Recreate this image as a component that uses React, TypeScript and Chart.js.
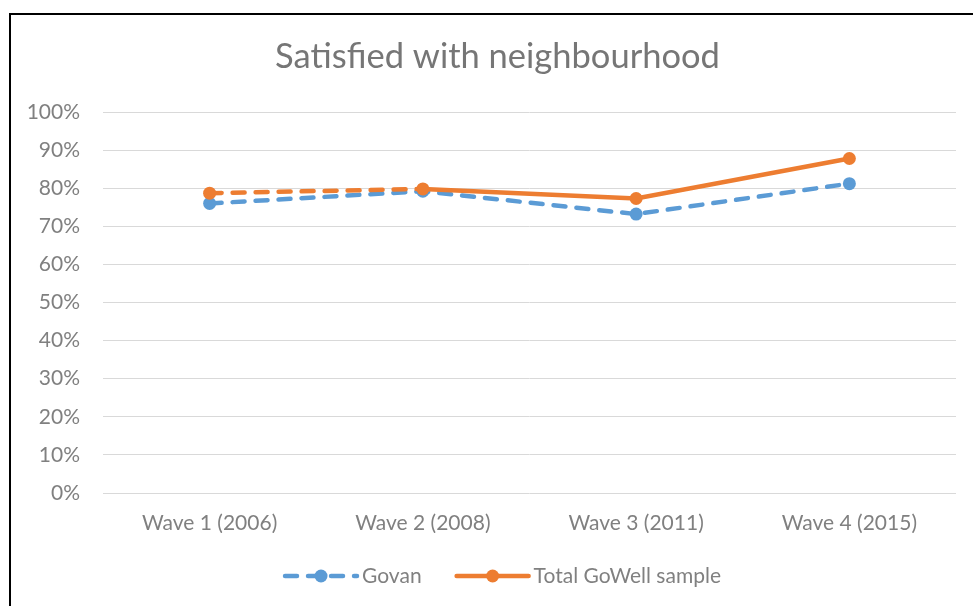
import React, { useEffect, useRef } from "react";
import { Chart, registerables } from "chart.js";

Chart.register(...registerables);

const categories = ["Wave 1 (2006)", "Wave 2 (2008)", "Wave 3 (2011)", "Wave 4 (2015)"];
const govanValues = [76.0, 79.2, 73.2, 81.2];
const totalValues = [78.7, 79.8, 77.3, 87.8];
const seriesNames = ["Govan", "Total GoWell sample"];
const titleText = "Satisfied with neighbourhood";
const yMin = 0;
const yMax = 100;
const yStep = 10;

const BLUE = "#5B9BD5";
const ORANGE = "#ED7D31";
const GRID = "#D9D9D9";
const TEXT = "#808080";
const FONT = "Lato";
const DASH = [12, 11];

const titleLegendPlugin = {
  id: "excelTitleLegend",
  afterDraw(chart: any) {
    const ctx: CanvasRenderingContext2D = chart.ctx;
    ctx.save();
    // title
    ctx.font = `34.5px ${FONT}`;
    ctx.fillStyle = "#767676";
    ctx.textAlign = "center";
    ctx.textBaseline = "middle";
    ctx.fillText(chart.options.titleText, 497.5, 57);

    // legend
    ctx.font = `21px ${FONT}`;
    const lineLen = 72;
    const textGap = 5;
    const itemGap = 35;
    const items = chart.data.datasets.map((ds: any) => ({
      label: ds.label,
      color: ds.borderColor,
      dashed: ds.legendDashed,
      w: ctx.measureText(ds.label).width,
    }));
    const total = items.reduce((s: number, it: any) => s + lineLen + textGap + it.w, 0) + itemGap * (items.length - 1);
    let x = 503 - total / 2;
    const y = 576;
    items.forEach((it: any) => {
      ctx.strokeStyle = it.color;
      ctx.lineWidth = 4.5;
      ctx.lineCap = "round";
      ctx.setLineDash(it.dashed ? DASH : []);
      ctx.beginPath();
      ctx.moveTo(x, y);
      ctx.lineTo(x + lineLen, y);
      ctx.stroke();
      ctx.setLineDash([]);
      ctx.fillStyle = it.color;
      ctx.beginPath();
      ctx.arc(x + lineLen / 2, y, 6.5, 0, Math.PI * 2);
      ctx.fill();
      ctx.fillStyle = TEXT;
      ctx.textBaseline = "middle";
      ctx.textAlign = "left";
      ctx.fillText(it.label, x + lineLen + textGap, y);
      x += lineLen + textGap + it.w + itemGap;
    });
    ctx.restore();
  },
};

export default function App() {
  const ref = useRef<HTMLCanvasElement | null>(null);

  useEffect(() => {
    document.body.style.margin = "0";
    if (!ref.current) return;
    const chart = new Chart(ref.current, {
      type: "line",
      data: {
        labels: categories,
        datasets: [
          {
            label: seriesNames[0],
            data: govanValues,
            borderColor: BLUE,
            backgroundColor: BLUE,
            borderWidth: 4.5,
            borderDash: DASH,
            borderCapStyle: "round",
            pointRadius: 6.5,
            pointBorderWidth: 0,
            pointBackgroundColor: BLUE,
            tension: 0,
            order: 1,
            legendDashed: true,
          } as any,
          {
            label: seriesNames[1],
            data: totalValues,
            borderColor: ORANGE,
            backgroundColor: ORANGE,
            borderWidth: 4.5,
            borderCapStyle: "round",
            pointRadius: 6.5,
            pointBorderWidth: 0,
            pointBackgroundColor: ORANGE,
            tension: 0,
            order: 0,
            legendDashed: false,
            segment: {
              borderDash: (c: any) => (c.p0DataIndex === 0 ? DASH : undefined),
            },
          } as any,
        ],
      },
      options: {
        animation: false,
        responsive: false,
        titleText,
        layout: { padding: { left: 0, right: 17, top: 112, bottom: 73 } },
        plugins: {
          legend: { display: false },
          tooltip: { enabled: false },
          title: { display: false },
        },
        scales: {
          x: {
            offset: true,
            grid: { display: false, drawTicks: false },
            border: { display: false },
            ticks: { color: TEXT, font: { family: FONT, size: 21 }, padding: 17.4, maxRotation: 0 },
            afterFit: (s: any) => {
              s.height = 40;
            },
          },
          y: {
            min: yMin,
            max: yMax,
            grid: { color: GRID, lineWidth: 1, drawTicks: false },
            border: { display: false },
            ticks: {
              stepSize: yStep,
              color: TEXT,
              font: { family: FONT, size: 21 },
              padding: 23,
              callback: (v: any) => `${v}%`,
            },
            afterFit: (s: any) => {
              s.width = 103;
            },
          },
        },
      } as any,
      plugins: [titleLegendPlugin],
    });
    return () => chart.destroy();
  }, []);

  return (
    <div style={{ position: "relative", width: 973, height: 606, background: "#fff" }}>
      <canvas ref={ref} width={973} height={606} style={{ display: "block" }} />
      <div
        style={{
          position: "absolute",
          left: 9,
          top: 13,
          right: -10,
          bottom: -10,
          borderLeft: "2px solid #000",
          borderTop: "2px solid #000",
          pointerEvents: "none",
        }}
      />
    </div>
  );
}
